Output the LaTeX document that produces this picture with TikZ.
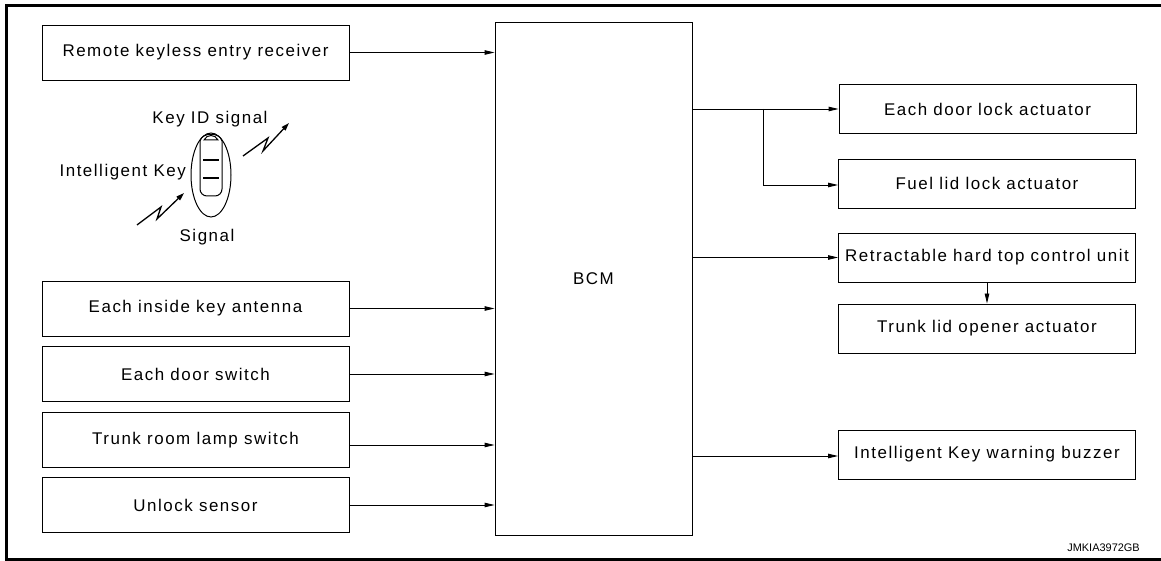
\documentclass[tikz,border=0pt]{standalone}
\usepackage{fontspec}
\setmainfont{Liberation Sans}
\newfontfamily\boxfont[LetterSpace=9]{Liberation Sans}
\usepackage{tikz}
\usetikzlibrary{positioning}
\usetikzlibrary{arrows.meta}
\usetikzlibrary{calc}
\usetikzlibrary{math}
\tikzset{
  unitbox/.style={draw, line width=0.9bp, rectangle, inner sep=0pt,
  font=\boxfont\fontsize{17}{19}\selectfont},
  inbox/.style={unitbox, minimum width=307bp, minimum height=55bp},
  outbox/.style={unitbox, minimum width=297bp, minimum height=49bp},
  sig/.style={draw, line width=0.9bp, -{Triangle[length=10bp,width=4.5bp]}},
  bolt/.style={draw, line width=1.3bp, -{Triangle[length=8bp,width=5bp]}},
  plain/.style={font=\boxfont\fontsize{17}{19}\selectfont, inner sep=0pt},
}

\begin{document}
\begin{tikzpicture}[
  x=1bp,
  y=-1bp,
  >=stealth,
]

  \useasboundingbox (0,0) rectangle (1161,561);

  \tikzmath{
    \fobrx = 20; % half width of key fob
    \fobry = 42; % half height of key fob
  }

  \coordinate (recvc)     at ( 195.5,  52.5 );
  \coordinate (antennac)  at ( 195.5, 308.5 );
  \coordinate (doorswc)   at ( 195.5, 374.0 );
  \coordinate (lampswc)   at ( 195.5, 440.0 );
  \coordinate (unlockc)   at ( 195.5, 505.0 );

  \coordinate (bcmc)      at ( 593.5, 279.0 );

  \coordinate (doorlockc) at ( 987.5, 109.0 );
  \coordinate (fuellidc)  at ( 987.0, 183.5 );
  \coordinate (hardtopc)  at ( 987.0, 257.5 );
  \coordinate (trunklidc) at ( 987.0, 328.5 );
  \coordinate (buzzerc)   at ( 987.0, 454.5 );

  \coordinate (fob)       at ( 211.0, 175.0 );
  \coordinate (split)     at ( 763.0, 109.0 );

  % Frame
  \draw[line width=3bp] (1161,5.5) -- (6.5,5.5) -- (6.5,559.5) -- (1161,559.5);

  % Input units
  \node[inbox] (recv)    at (recvc)    {Remote keyless entry receiver};
  \node[inbox] (antenna) at (antennac) {Each inside key antenna};
  \node[inbox] (doorsw)  at (doorswc)  {Each door switch};
  \node[inbox] (lampsw)  at (lampswc)  {Trunk room lamp switch};
  \node[inbox] (unlock)  at (unlockc)  {Unlock sensor};

  % Control module
  \node[unitbox, minimum width=197bp, minimum height=513bp] (bcm) at (bcmc) {BCM};

  % Output units
  \node[outbox] (doorlock) at (doorlockc) {Each door lock actuator};
  \node[outbox] (fuellid)  at (fuellidc)  {Fuel lid lock actuator};
  \node[outbox] (hardtop)  at (hardtopc)  {Retractable hard top control unit};
  \node[outbox] (trunklid) at (trunklidc) {Trunk lid opener actuator};
  \node[outbox] (buzzer)   at (buzzerc)   {Intelligent Key warning buzzer};

  % Inputs to BCM
  \draw[sig] (recv.east)    -- (recv.east -| bcm.west);
  \draw[sig] (antenna.east) -- (antenna.east -| bcm.west);
  \draw[sig] (doorsw.east)  -- (doorsw.east -| bcm.west);
  \draw[sig] ([yshift=-5bp]lampsw.east) -- ([yshift=-5bp]lampsw.east -| bcm.west);
  \draw[sig] (unlock.east)  -- (unlock.east -| bcm.west);

  % Outputs from BCM
  \draw[sig] (doorlock.west -| bcm.east) -- (doorlock.west);
  \draw[sig] (split) |- ([yshift=-1.5bp]fuellid.west);
  \draw[sig] (hardtop.west -| bcm.east)  -- (hardtop.west);
  \draw[sig] (hardtop.south) -- (trunklid.north);
  \draw[sig] ([yshift=-1.5bp]buzzer.west -| bcm.east) -- ([yshift=-1.5bp]buzzer.west);

  % Intelligent Key
  \draw[line width=1bp] (fob) ellipse ({\fobrx} and {\fobry});
  \draw[line width=1bp, rounded corners=7bp]
    (200,141) -- (200,196) -- (222,196) -- (222,141);
  \draw[line width=1bp] (200,141) .. controls (202,132) and (220,132) .. (222,141);
  \draw[line width=1bp] (204,140) .. controls (207,134) and (215,134) .. (218,140) -- cycle;
  \draw[line width=2.2bp] (203,160) -- (219,160);
  \draw[line width=2.2bp] (203,178) -- (219,178);

  \node[plain] (keyid)  at (210,119) {Key ID signal};
  \node[plain, anchor=east] (keyname) at (186,172) {Intelligent Key};
  \node[plain] (signal) at (207,237) {Signal};

  % Radio links
  \draw[bolt] (243,156) -- (268,138) -- (263,151) -- (289,123);
  \draw[bolt] (137,225) -- (161,207) -- (157,219) -- (184,193);

  % Figure code
  \node[anchor=east, inner sep=0pt, font=\fontsize{11}{13}\selectfont] (code) at (1140,548) {JMKIA3972GB};

\end{tikzpicture}
\end{document}
